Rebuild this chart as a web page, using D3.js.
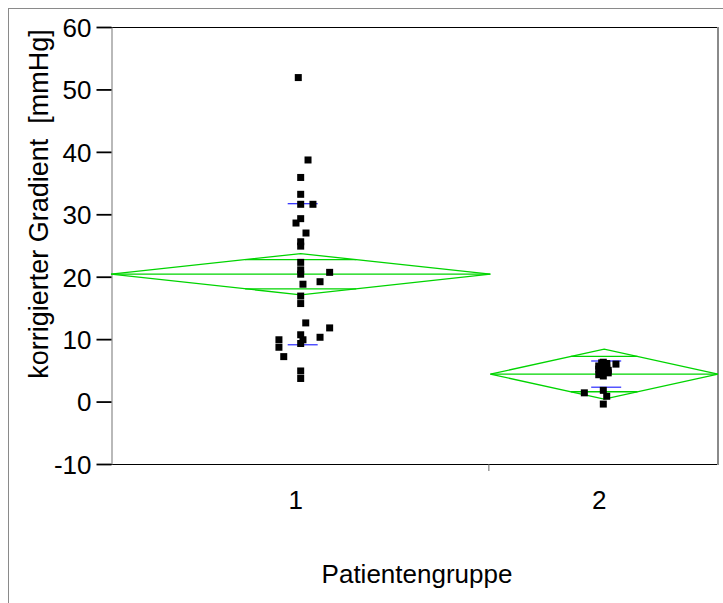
<!DOCTYPE html>
<html>
<head>
<meta charset="utf-8">
<script src="https://cdn.jsdelivr.net/npm/d3@7"></script>
<style>
  body { margin: 0; background: #fff; }
  text { font-family: "Liberation Sans", Arial, sans-serif; fill: #000; }
</style>
</head>
<body>
<svg id="chart" width="723" height="603"></svg>
<script>
// Group labels and sizes (x widths are proportional to group size)
const categories = ["1", "2"];
const groupCounts = [30, 18];

// Corrected gradient per patient [mmHg], group 1
const group1Values = [51.9, 38.7, 35.9, 33.2, 31.6, 31.6, 29.3, 28.6, 27.0, 25.6,
  24.9, 22.3, 21.1, 20.4, 20.7, 19.2, 18.8, 16.9, 15.7, 12.6,
  11.8, 10.3, 10.7, 9.9, 9.3, 9.9, 8.7, 7.2, 4.9, 3.7];
// horizontal jitter of each point, in group-count units
const group1Jitter = [-0.19, 0.58, 0, 0, 0, 0.97, 0, -0.37, 0.42, 0,
  0, 0, 0, 0, 2.29, 1.53, 0.18, 0, 0, 0.40,
  2.29, 1.53, 0, 0.18, 0, -1.72, -1.72, -1.34, 0, 0];

// group 2
const group2Values = [6.0, 6.3, 5.7, 5.4, 4.9, 4.6, 4.3, 4.1, 1.4, 1.8,
  0.85, -0.4, 5.6, 5.9, 5.2, 6.1, 5.0, 6.2];
const group2Jitter = [0.93, -0.07, -0.43, 0.2, -0.2, 0.32, -0.43, -0.07, -1.57, -0.07,
  0.2, -0.07, -0.07, 0.2, -0.43, 0.2, 0.32, -0.2];

// Group summaries: mean, 95% CI half width, standard deviation
const groupMeans = [20.4, 4.4];
const groupCI = [3.3, 4.0];
const groupSD = [11.3, 2.1];

const yTicks = [-10, 0, 10, 20, 30, 40, 50, 60];
const yDomain = [-10, 60];

const svg = d3.select("#chart");

// outer frame (top and left edges)
svg.append("line").attr("x1", 8).attr("x2", 723).attr("y1", 8.5).attr("y2", 8.5)
  .attr("stroke", "#8a8a8a").attr("stroke-width", 1);
svg.append("line").attr("x1", 8.5).attr("x2", 8.5).attr("y1", 8).attr("y2", 603)
  .attr("stroke", "#8a8a8a").attr("stroke-width", 1);

const pLeft = 111, pRight = 718, pTop = 27, pBottom = 464;
const total = d3.sum(groupCounts);
const x = d3.scaleLinear().domain([0, total]).range([pLeft, pRight]);
const y = d3.scaleLinear().domain(yDomain).range([pBottom, pTop]);

const groupStart = d3.cumsum([0, ...groupCounts]).slice(0, groupCounts.length);
const groupCenter = groupCounts.map((n, i) => groupStart[i] + n / 2);

// plot frame
svg.append("line").attr("x1", pLeft).attr("x2", pRight).attr("y1", pTop + 0.5).attr("y2", pTop + 0.5)
  .attr("stroke", "#000").attr("stroke-width", 1.2);
svg.append("line").attr("x1", pLeft).attr("x2", pRight + 1).attr("y1", pBottom + 0.5).attr("y2", pBottom + 0.5)
  .attr("stroke", "#000").attr("stroke-width", 1.2);
svg.append("line").attr("x1", pRight).attr("x2", pRight).attr("y1", pTop).attr("y2", pBottom + 1)
  .attr("stroke", "#8a8a8a").attr("stroke-width", 2);

// y axis
const yAxis = svg.append("g").attr("transform", `translate(${pLeft + 0.5},0)`)
  .call(d3.axisLeft(y).tickValues(yTicks).tickFormat(d => String(d))
    .tickSize(15).tickPadding(5).tickSizeOuter(0));
yAxis.attr("font-size", null).attr("font-family", null);
yAxis.select(".domain").attr("stroke", "#8a8a8a").attr("stroke-width", 1.2);
yAxis.selectAll(".tick line").attr("stroke", "#000").attr("stroke-width", 1.8);
yAxis.selectAll(".tick text").attr("font-size", 26).attr("dy", "0.36em");

// x axis: group boundary ticks and group labels
groupStart.slice(1).forEach(s => {
  svg.append("line").attr("x1", x(s) - 1.5).attr("x2", x(s) - 1.5)
    .attr("y1", pBottom).attr("y2", pBottom + 7)
    .attr("stroke", "#666").attr("stroke-width", 1);
});
svg.selectAll(".xlab").data(categories).join("text")
  .attr("class", "xlab")
  .attr("x", (d, i) => x(groupCenter[i]) - 5)
  .attr("y", 509)
  .attr("text-anchor", "middle")
  .attr("font-size", 26)
  .text(d => d);

// axis titles
svg.append("text").attr("x", 417).attr("y", 583).attr("text-anchor", "middle")
  .attr("font-size", 26).text("Patientengruppe");
svg.append("text").attr("transform", "translate(48,204) rotate(-90)")
  .attr("text-anchor", "middle").attr("font-size", 27)
  .style("white-space", "pre")
  .text("korrigierter Gradient  [mmHg]");

// means diamonds with overlap marks
const green = "#00d400";
const plot = svg.append("g");
groupCounts.forEach((n, i) => {
  const x0 = x(groupStart[i]), x1 = x(groupStart[i] + n), xc = x(groupCenter[i]);
  const ym = y(groupMeans[i]);
  const yHi = y(groupMeans[i] + groupCI[i]), yLo = y(groupMeans[i] - groupCI[i]);
  plot.append("path")
    .attr("d", `M${x0},${ym}L${xc},${yHi}L${x1},${ym}L${xc},${yLo}Z`)
    .attr("fill", "none").attr("stroke", green).attr("stroke-width", 1.3);
  plot.append("line").attr("x1", x0).attr("x2", x1).attr("y1", ym).attr("y2", ym)
    .attr("stroke", green).attr("stroke-width", 1.3);
  const k = Math.SQRT1_2;
  const hw = (x1 - x0) / 2 * (1 - k);
  [groupMeans[i] + groupCI[i] * k, groupMeans[i] - groupCI[i] * k].forEach(v => {
    plot.append("line").attr("x1", xc - hw).attr("x2", xc + hw)
      .attr("y1", y(v)).attr("y2", y(v))
      .attr("stroke", green).attr("stroke-width", 1.3);
  });
  // standard deviation lines
  [groupMeans[i] + groupSD[i], groupMeans[i] - groupSD[i]].forEach(v => {
    plot.append("line").attr("x1", xc - 13).attr("x2", xc + 17)
      .attr("y1", y(v)).attr("y2", y(v))
      .attr("stroke", "#3a3aff").attr("stroke-width", 1.3);
  });
});

// data points
const pts = [];
group1Values.forEach((v, j) => pts.push({ g: 0, v, jit: group1Jitter[j] }));
group2Values.forEach((v, j) => pts.push({ g: 1, v, jit: group2Jitter[j] }));
const s = 7;
svg.append("g").selectAll("rect").data(pts).join("rect")
  .attr("x", d => x(groupCenter[d.g] + d.jit) - s / 2)
  .attr("y", d => y(d.v) - s / 2)
  .attr("width", s).attr("height", s)
  .attr("fill", "#000");
</script>
</body>
</html>
